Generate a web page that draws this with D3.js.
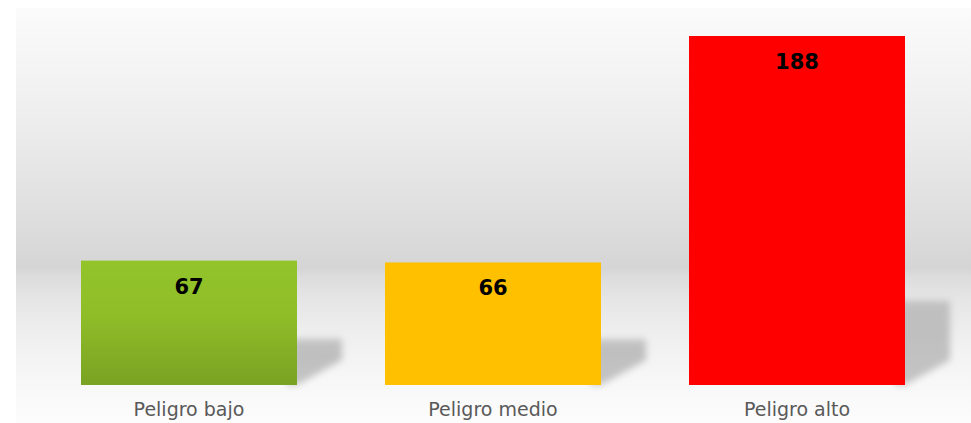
<!DOCTYPE html>
<html>
<head>
<meta charset="utf-8">
<script src="https://cdn.jsdelivr.net/npm/d3@7"></script>
<style>
  html, body { margin: 0; padding: 0; background: #ffffff; }
  svg { display: block; }
</style>
</head>
<body>
<svg id="chart" width="971" height="423"></svg>
<script>
const categories = ["Peligro bajo", "Peligro medio", "Peligro alto"];
const values = [67, 66, 188];
const barColors = ["green", "#ffc000", "#ff0000"];

const W = 971, H = 423;
const svg = d3.select("#chart");
const defs = svg.append("defs");

// background gradient (wall + floor)
const bg = defs.append("linearGradient").attr("id", "bg")
  .attr("gradientUnits", "userSpaceOnUse")
  .attr("x1", 0).attr("y1", 8).attr("x2", 0).attr("y2", 423);
[[8, "#fbfbfb"], [60, "#f5f5f5"], [100, "#f0f0f0"], [150, "#e9e9e9"], [230, "#dcdcdc"],
 [268, "#d5d5d5"], [276, "#dcdcdc"], [300, "#e6e6e6"], [340, "#f0f0f0"], [385, "#f8f8f8"], [423, "#fcfcfc"]]
  .forEach(([y, c]) => bg.append("stop").attr("offset", (y - 8) / 415).attr("stop-color", c));

const green = defs.append("linearGradient").attr("id", "greenGrad")
  .attr("x1", 0).attr("y1", 0).attr("x2", 0).attr("y2", 1);
green.append("stop").attr("offset", 0).attr("stop-color", "#93c42a");
green.append("stop").attr("offset", 0.45).attr("stop-color", "#8fbd28");
green.append("stop").attr("offset", 1).attr("stop-color", "#7aa223");

const shadowGrad = defs.append("linearGradient").attr("id", "shadowGrad")
  .attr("x1", 0).attr("y1", 0).attr("x2", 0).attr("y2", 1);
shadowGrad.append("stop").attr("offset", 0).attr("stop-color", "#b4b4b4").attr("stop-opacity", 0.75);
shadowGrad.append("stop").attr("offset", 0.3).attr("stop-color", "#bcbcbc").attr("stop-opacity", 0.95);
shadowGrad.append("stop").attr("offset", 1).attr("stop-color", "#c4c4c4").attr("stop-opacity", 1);

const blur = defs.append("filter").attr("id", "blur")
  .attr("x", "-50%").attr("y", "-50%").attr("width", "200%").attr("height", "200%");
blur.append("feGaussianBlur").attr("stdDeviation", 3.5);

svg.append("rect").attr("x", 16).attr("y", 8).attr("width", W - 16).attr("height", H - 8)
  .attr("fill", "url(#bg)");

const x = d3.scaleBand().domain(categories).range([81, 905]).paddingInner(0.2895).paddingOuter(0);
const y = d3.scaleLinear().domain([0, 188]).range([385, 36]);
const base = y(0);

const data = categories.map((c, i) => ({ c, v: values[i], col: i === 0 ? "url(#greenGrad)" : barColors[i] }));

// shadows
const dx = 45, dy = 25, k = 0.17;
svg.append("g").selectAll("path").data(data).join("path")
  .attr("d", d => {
    const x1 = x(d.c) + x.bandwidth();
    const h = base - y(d.v);
    const top = base - dy - k * h;
    return `M${x1 - 10},${base} L${x1},${base} L${x1 + dx},${base - dy} L${x1 + dx},${top} L${x1 - 10},${top} Z`;
  })
  .attr("fill", "url(#shadowGrad)")
  .attr("filter", "url(#blur)");

// bars
svg.append("g").selectAll("rect").data(data).join("rect")
  .attr("x", d => x(d.c))
  .attr("y", d => y(d.v))
  .attr("width", x.bandwidth())
  .attr("height", d => base - y(d.v))
  .attr("fill", d => d.col);

// value labels
svg.append("g").selectAll("text").data(data).join("text")
  .attr("x", d => x(d.c) + x.bandwidth() / 2)
  .attr("y", d => y(d.v) + 33)
  .attr("text-anchor", "middle")
  .attr("font-family", "'DejaVu Sans', sans-serif")
  .attr("font-weight", "bold")
  .attr("font-size", 21)
  .attr("fill", "#000")
  .text(d => d.v);

// category axis labels
const axis = d3.axisBottom(x).tickSize(0).tickPadding(0);
const ag = svg.append("g").attr("transform", `translate(0,${base})`).call(axis);
ag.select(".domain").remove();
ag.selectAll("text")
  .attr("dy", null)
  .attr("y", 31)
  .attr("font-family", "'DejaVu Sans', sans-serif")
  .attr("font-size", 19)
  .attr("fill", "#595959");
</script>
</body>
</html>
